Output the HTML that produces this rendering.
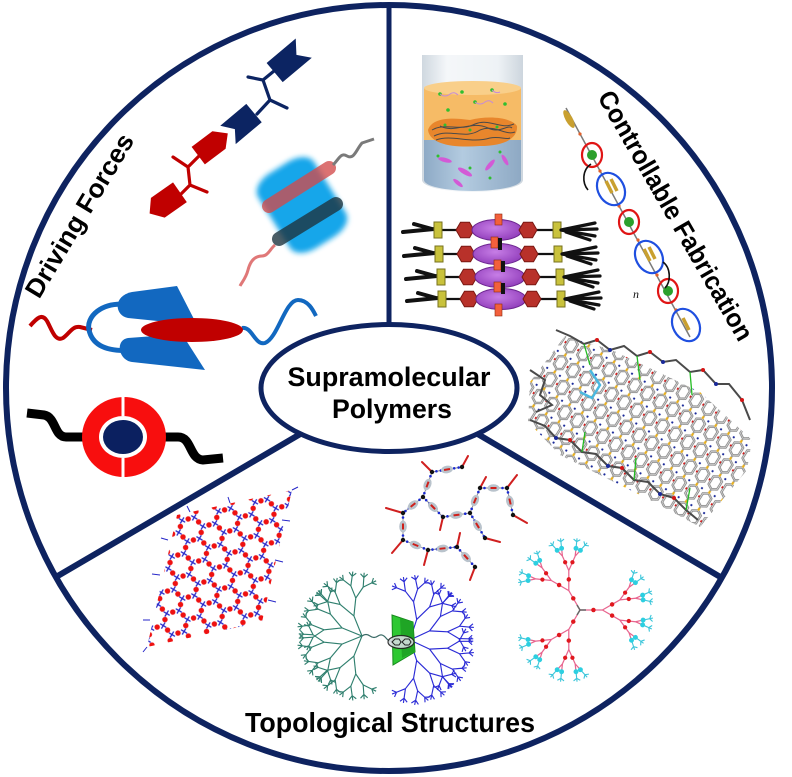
<!DOCTYPE html>
<html><head><meta charset="utf-8"><title>Supramolecular Polymers</title>
<style>
html,body{margin:0;padding:0;background:#fff;width:792px;height:777px;overflow:hidden}
svg{display:block}
.lbl{font-family:"Liberation Sans",Arial,sans-serif;font-weight:bold;fill:#000}
</style></head><body>
<svg xmlns="http://www.w3.org/2000/svg" width="792" height="777" viewBox="0 0 792 777">
<defs>
 <filter id="blur3" x="-40%" y="-40%" width="180%" height="180%"><feGaussianBlur stdDeviation="2.6"/></filter>
 <linearGradient id="glassg" x1="0" y1="0" x2="1" y2="0">
  <stop offset="0" stop-color="#c3ced8"/><stop offset="0.25" stop-color="#f2f5f8"/><stop offset="0.75" stop-color="#eaeff3"/><stop offset="1" stop-color="#c0cbd5"/>
 </linearGradient>
 <linearGradient id="waterg" x1="0" y1="0" x2="1" y2="0">
  <stop offset="0" stop-color="#8eaac6"/><stop offset="0.4" stop-color="#b3cbe0"/><stop offset="1" stop-color="#8ea9c4"/>
 </linearGradient>
 <radialGradient id="purp" cx="0.45" cy="0.4" r="0.7">
  <stop offset="0" stop-color="#c77ee6"/><stop offset="1" stop-color="#8a35b5"/>
 </radialGradient>

 <pattern id="hc" width="37.5" height="21.65" patternUnits="userSpaceOnUse" patternTransform="translate(150,495) rotate(-14)">
  <g fill="#ee1111">
   <circle cx="3.125" cy="5.41" r="2.7"/><circle cx="12.5" cy="0" r="2.7"/><circle cx="21.875" cy="5.41" r="2.7"/>
   <circle cx="21.875" cy="16.24" r="2.7"/><circle cx="12.5" cy="21.65" r="2.7"/><circle cx="3.125" cy="16.24" r="2.7"/>
   <circle cx="31.25" cy="10.825" r="2.7"/>
  </g>
  <path stroke="#2626c8" stroke-width="1.3" fill="none" d="M-2.5,8.3l5,5M-2.5,13.3l5,-5 M3.75,-2.5l5,5M3.75,2.5l5,-5 M16.25,-2.5l5,5M16.25,2.5l5,-5 M22.5,8.3l5,5M22.5,13.3l5,-5 M16.25,19.15l5,5M16.25,24.15l5,-5 M3.75,19.15l5,5M3.75,24.15l5,-5 M35,8.3l5,5M35,13.3l5,-5"/>
 </pattern>

 <pattern id="mol" width="20" height="15" patternUnits="userSpaceOnUse" patternTransform="rotate(-58)">
  <path d="M2,7.5 L5,2.5 H14 L17,7.5 L14,12.5 H5 Z" fill="none" stroke="#6e6e6e" stroke-width="2.2"/>
  <path d="M2,7.5 L5,2.5 H14 L17,7.5 L14,12.5 H5 Z" fill="none" stroke="#d6d6d6" stroke-width="0.9"/>
  <line x1="17" y1="7.5" x2="20" y2="7.5" stroke="#e8b020" stroke-width="2.2"/>
  <line x1="0" y1="7.5" x2="2" y2="7.5" stroke="#9a9a9a" stroke-width="1.8"/>
  <circle cx="9.5" cy="0.5" r="1.2" fill="#d51515"/>
  <circle cx="18" cy="14" r="1.1" fill="#1a2a9a"/>
 </pattern>

 <g id="d4"><path d="M0,0H8M8,0l3,-3M8,0l3,3M8,0h4" fill="none"/></g>
 <g id="d3"><path d="M0,0H11"/><use href="#d4" transform="translate(11,0) rotate(30)"/><use href="#d4" transform="translate(11,0) rotate(-30)"/></g>
 <g id="d2"><path d="M0,0H15"/><use href="#d3" transform="translate(15,0) rotate(28)"/><use href="#d3" transform="translate(15,0) rotate(-28)"/></g>
 <g id="d1"><path d="M0,0H18"/><use href="#d2" transform="translate(18,0) rotate(28)"/><use href="#d2" transform="translate(18,0) rotate(-28)"/></g>

 <g id="pk4"><path d="M0,0H6" stroke="#e8648e" stroke-width="1.1"/><circle cx="7" cy="0" r="2.2" fill="#2dcfe0"/><path d="M9,0h4M13,0l2,-3M13,0l2,3M13,0h3" stroke="#3cc6da" stroke-width="1" fill="none"/></g>
 <g id="pk3"><path d="M0,0H14" stroke="#e8648e" stroke-width="1.1"/><circle cx="8" cy="0" r="1.9" fill="#e0181e"/><use href="#pk4" transform="translate(14,0) rotate(18)"/><use href="#pk4" transform="translate(14,0) rotate(-18)"/></g>
 <g id="pk2"><path d="M0,0H18" stroke="#e8648e" stroke-width="1.1"/><circle cx="10" cy="0" r="2" fill="#e0181e"/><use href="#pk3" transform="translate(18,0) rotate(24)"/><use href="#pk3" transform="translate(18,0) rotate(-24)"/></g>
 <g id="pk1"><path d="M0,0H20" stroke="#e8648e" stroke-width="1.1"/><circle cx="12" cy="0" r="2" fill="#e0181e"/><use href="#pk2" transform="translate(20,0) rotate(30)"/><use href="#pk2" transform="translate(20,0) rotate(-30)"/></g>

 <g id="srow">
  <path d="M403,2 L434,-1 M414,-6 L432,-1" stroke="#111" stroke-width="4" stroke-linecap="round" fill="none"/>
  <line x1="434" y1="0" x2="562" y2="0" stroke="#111" stroke-width="2.2"/>
  <rect x="434" y="-8" width="8" height="16" fill="#c9c23c" stroke="#77721e" stroke-width="1"/>
  <polygon points="474,0 469.5,-7.8 460.5,-7.8 456,0 460.5,7.8 469.5,7.8" fill="#b8312a" stroke="#7a1812" stroke-width="1"/>
  <ellipse cx="497" cy="0" rx="25" ry="10.5" fill="url(#purp)" stroke="#6d2690" stroke-width="1"/>
  <polygon points="537,0 532.5,-7.8 523.5,-7.8 519,0 523.5,7.8 532.5,7.8" fill="#b8312a" stroke="#7a1812" stroke-width="1"/>
  <rect x="553" y="-8" width="8" height="16" fill="#c9c23c" stroke="#77721e" stroke-width="1"/>
  <path d="M561,0 L595,-7 M561,0 L597,-1 M561,0 L595,6 M566,2 L590,10" stroke="#111" stroke-width="3.2" stroke-linecap="round" fill="none"/>
 </g>
</defs>

<rect width="792" height="777" fill="#fff"/>

<!-- DRIVING FORCES -->
<g stroke-width="3.2" fill="none" stroke-linecap="round">
 <path d="M257,114 L270,100 L287,108 M270,100 L263,80 L248,77 M263,80 L274,71" stroke="#0c2462"/>
 <path d="M178,197 L190,185 L207,192 M190,185 L188,167 L173,157 M188,167 L200,155" stroke="#c00000"/>
</g>
<polygon points="-17,-13 21,-13 11,0 21,12 -17,12" transform="translate(288,62) rotate(-40)" fill="#0c2462"/>
<polygon points="-17,-12 17,-12 17,12 -17,12 -8,0" transform="translate(241,124) rotate(-40)" fill="#0c2462"/>
<polygon points="-16,-11 10,-11 21,0 10,11 -16,11" transform="translate(211,146) rotate(-37)" fill="#c00000"/>
<polygon points="-20,0 -10,-12 17,-12 17,12 -10,12" transform="translate(166,202) rotate(-35)" fill="#c00000"/>

<g transform="translate(302,205) rotate(-32)">
 <rect x="-33" y="-44" width="66" height="88" rx="22" ry="14" fill="#12a6ea" filter="url(#blur3)"/>
</g>
<line x1="269" y1="206" x2="329" y2="168" stroke="#d24a4a" stroke-opacity="0.78" stroke-width="14" stroke-linecap="round"/>
<line x1="279" y1="239" x2="336" y2="204" stroke="#1e3440" stroke-opacity="0.8" stroke-width="14" stroke-linecap="round"/>
<path d="M333,165 C339,159 341,152 347,156 C354,160 356,150 362,143 L374,139" stroke="#7a7a7a" stroke-width="3" fill="none"/>
<path d="M275,245 C270,249 268,256 262,256 C254,256 250,262 248,270 C246,278 242,282 240,286" stroke="#e07878" stroke-width="3" fill="none"/>

<path d="M30,326 C37,318 42,313 47,321 C52,330 55,342 63,338 C70,333 72,326 80,327 L92,330" stroke="#c00000" stroke-width="4" fill="none"/>
<path d="M242,328 C252,326 255,346 265,343 C278,338 285,300 298,300 C308,300 313,310 316,316" stroke="#1268c0" stroke-width="4" fill="none"/>
<path d="M132,305 C100,300 86,318 89,330 C93,348 112,352 134,350" stroke="#1268c0" stroke-width="5" fill="none"/>
<path d="M132,292 L177,286 L197,325 L128,318 C115,316 112,296 132,292 Z" fill="#1268c0"/>
<path d="M128,338 L182,334 L205,370 L132,362 C118,360 115,340 128,338 Z" fill="#1268c0"/>
<ellipse cx="192" cy="330" rx="51" ry="12" fill="#c00000"/>

<path d="M27,413 L44,415 C56,417 54,437 66,437 L86,437" stroke="#000" stroke-width="9" fill="none"/>
<path d="M162,437 L178,437 C192,437 189,459 203,460 L223,458" stroke="#000" stroke-width="9" fill="none"/>
<ellipse cx="124" cy="437" rx="42" ry="40" fill="#f80e0e"/>
<ellipse cx="123" cy="437" rx="24" ry="21" fill="#fff"/>
<ellipse cx="123" cy="437" rx="20" ry="17" fill="#0b2060"/>
<rect x="121.5" y="395" width="3" height="21" fill="#fff"/>
<rect x="121.5" y="458" width="3" height="21" fill="#fff"/>

<!-- CONTROLLABLE FABRICATION -->
<path d="M422,55 L422,180 A50.5,12 0 0 0 523,180 L523,55 Z" fill="url(#glassg)" opacity="0.8"/>
<path d="M424,138 L424,180 A48.5,11 0 0 0 521,180 L521,138 Z" fill="url(#waterg)"/>
<rect x="424" y="88" width="97" height="52" fill="#f6bb66"/>
<ellipse cx="472.5" cy="88" rx="48.5" ry="7" fill="#f9cf8a"/>
<path d="M428,130 C432,118 450,117 470,120 C490,115 512,118 517,126 C518,138 505,146 480,146 C455,148 430,145 428,130 Z" fill="#e8862c"/>
<g stroke="#4a4a4a" stroke-width="1" fill="none">
 <path d="M432,130 C445,122 460,132 475,124 C490,118 500,130 514,124"/>
 <path d="M434,136 C450,128 465,140 480,130 C495,124 505,136 515,132"/>
 <path d="M440,126 C455,134 470,120 488,128 C500,134 508,124 512,128"/>
 <path d="M436,140 C452,134 470,144 490,138 C500,136 506,140 510,138"/>
</g>
<g fill="#2fbf2f">
 <circle cx="440" cy="94" r="1.8"/><circle cx="462" cy="92" r="1.8"/><circle cx="492" cy="90" r="1.8"/><circle cx="505" cy="104" r="1.8"/>
 <circle cx="448" cy="110" r="1.8"/><circle cx="475" cy="102" r="1.8"/><circle cx="445" cy="125" r="1.5"/><circle cx="470" cy="130" r="1.5"/><circle cx="497" cy="127" r="1.5"/>
 <circle cx="438" cy="156" r="1.5"/><circle cx="470" cy="168" r="1.5"/><circle cx="500" cy="152" r="1.5"/><circle cx="490" cy="178" r="1.5"/>
</g>
<g stroke="#c58ad8" stroke-width="1" fill="none">
 <path d="M440,94 q5,4 10,0 q4,-3 8,1"/><path d="M475,102 q5,4 10,0 q4,-3 8,1"/><path d="M492,90 q4,4 8,2"/>
</g>
<g fill="#d35ad6">
 <ellipse cx="445" cy="160" rx="7" ry="2.2" transform="rotate(15 445 160)"/>
 <ellipse cx="465" cy="172" rx="8" ry="2.5" transform="rotate(30 465 172)"/>
 <ellipse cx="490" cy="165" rx="7" ry="2.2" transform="rotate(-50 490 165)"/>
 <ellipse cx="505" cy="160" rx="6" ry="2" transform="rotate(60 505 160)"/>
 <ellipse cx="458" cy="183" rx="6" ry="2" transform="rotate(40 458 183)"/>
</g>

<use href="#srow" transform="translate(0,230)"/>
<use href="#srow" transform="translate(1,254)"/>
<use href="#srow" transform="translate(3,277)"/>
<use href="#srow" transform="translate(4,299)"/>
<g fill="#f3603c" stroke="#8a2a10" stroke-width="0.6">
 <rect x="495" y="214" width="7" height="11"/><rect x="491" y="237" width="7" height="11"/><rect x="494" y="260" width="7" height="10"/><rect x="494" y="282" width="7" height="10"/><rect x="495" y="304" width="7" height="12"/>
</g>
<g fill="#111"><rect x="498" y="238" width="4" height="12"/><rect x="501" y="261" width="4" height="11"/><rect x="501" y="283" width="4" height="11"/></g>

<line x1="566" y1="108" x2="690" y2="337" stroke="#7a7a7a" stroke-width="1.5"/>
<g fill="#e0602a"><circle cx="580" cy="134" r="1.6"/><circle cx="600" cy="171" r="1.6"/><circle cx="619" cy="206" r="1.6"/><circle cx="638" cy="240" r="1.6"/><circle cx="657" cy="275" r="1.6"/><circle cx="676" cy="310" r="1.6"/></g>
<ellipse cx="569" cy="119" rx="3.5" ry="10" transform="rotate(-29 569 119)" fill="#c9a030"/>
<g fill="none" stroke="#e01515" stroke-width="2.2">
 <ellipse cx="592" cy="155" rx="10" ry="12"/><ellipse cx="629" cy="222" rx="10" ry="12"/><ellipse cx="668" cy="291" rx="10" ry="12"/>
</g>
<g fill="#2ca02c"><circle cx="592" cy="155" r="5"/><circle cx="629" cy="222" r="5"/><circle cx="668" cy="291" r="5"/></g>
<g fill="none" stroke="#1f4fe0" stroke-width="2.2">
 <ellipse cx="611" cy="189" rx="13" ry="17" transform="rotate(-29 611 189)"/>
 <ellipse cx="649" cy="257" rx="13" ry="17" transform="rotate(-29 649 257)"/>
 <ellipse cx="686" cy="325" rx="13" ry="17" transform="rotate(-29 686 325)"/>
</g>
<g stroke="#c9a030" stroke-width="3.5">
 <line x1="606" y1="181" x2="612" y2="193"/><line x1="611" y1="179" x2="617" y2="191"/>
 <line x1="644" y1="249" x2="650" y2="261"/><line x1="649" y1="247" x2="655" y2="259"/>
 <line x1="683" y1="318" x2="689" y2="330"/>
</g>
<path d="M591,164 C582,170 582,183 588,190" stroke="#111" stroke-width="1.6" fill="none"/>
<path d="M663,262 C671,268 671,282 665,288" stroke="#111" stroke-width="1.6" fill="none"/>
<text x="633" y="298" font-family="Liberation Serif, serif" font-style="italic" font-size="12" fill="#111">n</text>

<polygon points="565,336 612,350 700,392 752,440 747,470 700,527 650,500 560,455 528,422 530,382" fill="url(#mol)"/>
<g stroke="#4a4a4a" stroke-width="2" fill="none">
 <polyline points="556,330 570,336 584,344 597,340 610,350 624,346 637,356 650,352 663,362 676,360 690,372 703,370 716,384 729,384 742,400 750,420"/>
 <polyline points="530,420 545,426 556,438 570,440 582,452 596,454 608,466 622,468 634,480 648,482 660,494 674,498 686,510 698,520"/>
 <polyline points="530,370 545,380 540,395 552,405 536,412"/>
</g>
<g stroke="#22bb22" stroke-width="1.3">
 <line x1="584" y1="344" x2="590" y2="365"/><line x1="637" y1="356" x2="640" y2="380"/><line x1="690" y1="372" x2="692" y2="395"/>
 <line x1="582" y1="452" x2="585" y2="432"/><line x1="634" y1="480" x2="636" y2="458"/><line x1="686" y1="510" x2="690" y2="488"/>
</g>
<g fill="#d51515"><circle cx="597" cy="340" r="2"/><circle cx="650" cy="352" r="2"/><circle cx="703" cy="370" r="2"/><circle cx="570" cy="440" r="2"/><circle cx="622" cy="468" r="2"/><circle cx="674" cy="498" r="2"/><circle cx="742" cy="400" r="2"/></g>
<g fill="#1a2a9a"><circle cx="610" cy="350" r="2"/><circle cx="663" cy="362" r="2"/><circle cx="716" cy="384" r="2"/><circle cx="556" cy="438" r="2"/><circle cx="608" cy="466" r="2"/><circle cx="660" cy="494" r="2"/></g>
<path d="M590,370 L600,385 L592,398 L580,392" stroke="#4ab8e0" stroke-width="2.5" fill="none"/>

<!-- TOPOLOGICAL STRUCTURES -->
<polygon points="177,515 292,490 262,622 147,647" fill="url(#hc)"/>
<g stroke="#2626c8" stroke-width="1">
 <path d="M292,490 l6,-3 M282,520 l8,1 M275,560 l8,2 M268,600 l8,2 M147,647 l-4,5 M150,620 l-7,0 M160,575 l-8,-1 M168,540 l-7,-2 M190,512 l-3,-6 M230,503 l-2,-6"/>
</g>

<g stroke="#888" stroke-width="0.9">
 <path d="M432,472L462,467 M432,472L423,497 M423,497L403,513 M423,497L443,517 M403,513L403,540 M443,517L470,513 M470,513L480,488 M480,488L507,488 M507,488L513,515 M470,513L485,538 M403,540L428,550 M428,550L457,547 M457,547L475,567"/>
</g>
<g stroke="#1a2ad0" stroke-width="2.6" stroke-dasharray="0 4.5" stroke-linecap="round">
 <path d="M432,472L462,467 M432,472L423,497 M423,497L403,513 M423,497L443,517 M403,513L403,540 M443,517L470,513 M470,513L480,488 M480,488L507,488 M507,488L513,515 M470,513L485,538 M403,540L428,550 M428,550L457,547 M457,547L475,567"/>
</g>
<g stroke="#d02020" stroke-width="2" stroke-linecap="round">
 <path d="M462,467L468,456 M432,472L422,462 M403,513L386,508 M403,540L392,553 M428,550L424,565 M475,567L470,580 M485,538L500,542 M513,515L527,523 M507,488L517,475 M480,488L486,477 M457,547L460,533 M443,517L440,530"/>
</g>
<g fill="#b9c3cc">
 <ellipse cx="447" cy="469.5" rx="6" ry="3.8" transform="rotate(-9.5 447 469.5)"/>
 <ellipse cx="427.5" cy="484.5" rx="6" ry="3.8" transform="rotate(-70 427.5 484.5)"/>
 <ellipse cx="413" cy="505" rx="6" ry="3.8" transform="rotate(-39 413 505)"/>
 <ellipse cx="433" cy="507" rx="6" ry="3.8" transform="rotate(45 433 507)"/>
 <ellipse cx="403" cy="526.5" rx="6" ry="3.8" transform="rotate(90 403 526.5)"/>
 <ellipse cx="456.5" cy="515" rx="6" ry="3.8" transform="rotate(-8 456.5 515)"/>
 <ellipse cx="475" cy="500.5" rx="6" ry="3.8" transform="rotate(-68 475 500.5)"/>
 <ellipse cx="493.5" cy="488" rx="6" ry="3.8"/>
 <ellipse cx="510" cy="501.5" rx="6" ry="3.8" transform="rotate(77 510 501.5)"/>
 <ellipse cx="477.5" cy="525.5" rx="6" ry="3.8" transform="rotate(59 477.5 525.5)"/>
 <ellipse cx="415.5" cy="545" rx="6" ry="3.8" transform="rotate(22 415.5 545)"/>
 <ellipse cx="442.5" cy="548.5" rx="6" ry="3.8" transform="rotate(-6 442.5 548.5)"/>
 <ellipse cx="466" cy="557" rx="6" ry="3.8" transform="rotate(48 466 557)"/>
</g>
<g fill="#cf1f1a">
 <rect x="444" y="468.5" width="6" height="2" transform="rotate(-9.5 447 469.5)"/>
 <rect x="424.5" y="483.5" width="6" height="2" transform="rotate(-70 427.5 484.5)"/>
 <rect x="410" y="504" width="6" height="2" transform="rotate(-39 413 505)"/>
 <rect x="430" y="506" width="6" height="2" transform="rotate(45 433 507)"/>
 <rect x="400" y="525.5" width="6" height="2" transform="rotate(90 403 526.5)"/>
 <rect x="453.5" y="514" width="6" height="2" transform="rotate(-8 456.5 515)"/>
 <rect x="472" y="499.5" width="6" height="2" transform="rotate(-68 475 500.5)"/>
 <rect x="490.5" y="487" width="6" height="2"/>
 <rect x="507" y="500.5" width="6" height="2" transform="rotate(77 510 501.5)"/>
 <rect x="474.5" y="524.5" width="6" height="2" transform="rotate(59 477.5 525.5)"/>
 <rect x="412.5" y="544" width="6" height="2" transform="rotate(22 415.5 545)"/>
 <rect x="439.5" y="547.5" width="6" height="2" transform="rotate(-6 442.5 548.5)"/>
 <rect x="463" y="556" width="6" height="2" transform="rotate(48 466 557)"/>
</g>
<g fill="#111">
 <circle cx="432" cy="472" r="2.2"/><circle cx="462" cy="467" r="2.2"/><circle cx="480" cy="488" r="2.2"/><circle cx="423" cy="497" r="2.2"/>
 <circle cx="403" cy="513" r="2.2"/><circle cx="443" cy="517" r="2.2"/><circle cx="470" cy="513" r="2.2"/><circle cx="485" cy="538" r="2.2"/>
 <circle cx="403" cy="540" r="2.2"/><circle cx="428" cy="550" r="2.2"/><circle cx="457" cy="547" r="2.2"/><circle cx="475" cy="567" r="2.2"/>
 <circle cx="513" cy="515" r="2.2"/><circle cx="507" cy="488" r="2.2"/>
</g>

<g transform="translate(362,636) scale(1.2)" stroke="#2f7f6e" stroke-width="0.95" fill="none">
 <use href="#d1" transform="rotate(112)"/><use href="#d1" transform="rotate(158)"/><use href="#d1" transform="rotate(202)"/><use href="#d1" transform="rotate(248)"/>
</g>
<g transform="translate(410,640) scale(1.2)" stroke="#2b2bd6" stroke-width="0.95" fill="none">
 <use href="#d1" transform="rotate(-72)"/><use href="#d1" transform="rotate(-25)"/><use href="#d1" transform="rotate(25)"/><use href="#d1" transform="rotate(72)"/>
</g>
<path d="M362,636 q4,-3 8,0 t8,0 t8,2 t8,2" stroke="#3a6a66" stroke-width="1.2" fill="none"/>
<polygon points="392,615 413,622 415,652 393,665" fill="#2ec832" stroke="#178a1c" stroke-width="1"/>
<polygon points="400,618 413,622 414,652 402,658" fill="#1fa525"/>
<ellipse cx="401" cy="642" rx="13" ry="6.5" fill="#d6dee0" stroke="#222" stroke-width="1.2" opacity="0.9"/>
<path d="M392,642 l3,-3 h4 l2,3 l-2,3 h-4z M402,642 l3,-3 h4 l2,3 l-2,3 h-4z" stroke="#222" stroke-width="1" fill="none"/>

<g transform="translate(580,610) scale(1.12)">
 <use href="#pk1"/><use href="#pk1" transform="rotate(120)"/><use href="#pk1" transform="rotate(240)"/>
</g>
<path d="M580,610 l6,0 M580,610 l-3,5 M580,610 l-3,-5" stroke="#666" stroke-width="1.5"/>

<!-- FRAME -->
<g stroke="#0e2360" fill="none">
 <circle cx="389" cy="388" r="383" stroke-width="6"/>
 <line x1="389" y1="4" x2="389" y2="330" stroke-width="5"/>
 <line x1="302" y1="433" x2="56" y2="577" stroke-width="6"/>
 <line x1="476" y1="433" x2="722" y2="578" stroke-width="6"/>
</g>
<ellipse cx="389" cy="388" rx="128" ry="63.5" fill="#fff" stroke="#0e2360" stroke-width="5"/>

<!-- LABELS -->
<text class="lbl" x="389" y="386" font-size="27" text-anchor="middle" textLength="203" lengthAdjust="spacingAndGlyphs">Supramolecular</text>
<text class="lbl" x="392" y="418" font-size="27" text-anchor="middle" textLength="120" lengthAdjust="spacingAndGlyphs">Polymers</text>
<text class="lbl" transform="translate(87,220) rotate(-59)" font-size="26" text-anchor="middle" textLength="186" lengthAdjust="spacingAndGlyphs">Driving Forces</text>
<text class="lbl" transform="translate(668,220) rotate(60)" font-size="26" text-anchor="middle" textLength="284" lengthAdjust="spacingAndGlyphs">Controllable Fabrication</text>
<text class="lbl" x="390" y="732" font-size="28" text-anchor="middle" textLength="290" lengthAdjust="spacingAndGlyphs">Topological Structures</text>
</svg>
</body></html>
